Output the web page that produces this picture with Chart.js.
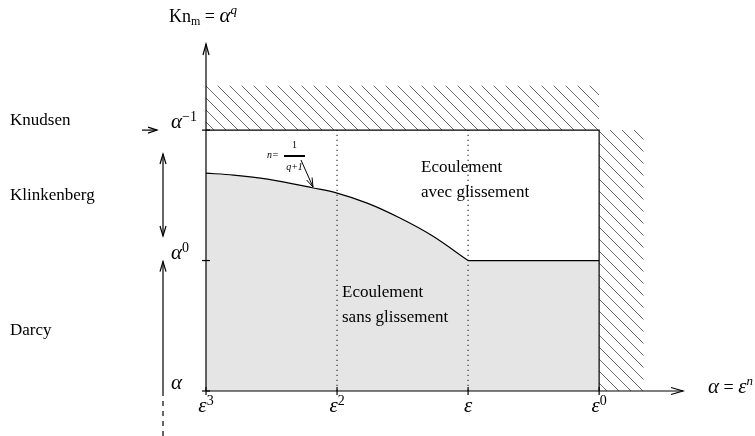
<!DOCTYPE html>
<html>
<head>
<meta charset="utf-8">
<script src="https://cdn.jsdelivr.net/npm/chart.js@4.4.0/dist/chart.umd.min.js"></script>
<style>
  html, body { margin: 0; padding: 0; background: #fff; }
  canvas { display: block; }
</style>
</head>
<body>
<canvas id="regimeChart" width="755" height="436"></canvas>
<script>
// axis ticks (x in powers of epsilon, y in powers of alpha)
const xTickPos = [0, 1, 2, 3];
const xTickBase = ['ε', 'ε', 'ε', 'ε'];
const xTickSup = ['3', '2', '', '0'];
const yTickPos = [0, 1, 2];
const yTickBase = ['α', 'α', 'α'];
const yTickSup = ['', '0', '−1'];

// frontier slip / no slip
const curveX = [0, 0.21, 0.47, 0.82, 1.0, 1.23, 1.48, 1.73, 2.0];
const curveY = [1.67, 1.655, 1.624, 1.556, 1.517, 1.44, 1.326, 1.188, 1.0];
const plateauX = [2, 3];
const plateauY = [1, 1];

// hatched (forbidden) zones
const hatchTopX = [0, 3];
const hatchTopY = [2.34, 2.34];
const hatchRightX = [3, 3.34];
const hatchRightY = [2, 2];

const regimeNames = ['Knudsen', 'Klinkenberg', 'Darcy'];

const serif = '"Liberation Serif", "Times New Roman", serif';
const toPoints = (xs, ys) => xs.map((x, i) => ({ x: x, y: ys[i] }));

function makeHatch() {
    const tile = document.createElement('canvas');
    tile.width = 12;
    tile.height = 12;
    const c = tile.getContext('2d');
    c.strokeStyle = '#6a6a6a';
    c.lineWidth = 1;
    c.beginPath();
    c.moveTo(-2, -2); c.lineTo(14, 14);
    c.moveTo(-2, 10); c.lineTo(2, 14);
    c.moveTo(10, -2); c.lineTo(14, 2);
    c.stroke();
    return c.createPattern(tile, 'repeat');
}

function segment(ctx, x1, y1, x2, y2) {
    ctx.beginPath();
    ctx.moveTo(x1, y1);
    ctx.lineTo(x2, y2);
    ctx.stroke();
}

function arrowHead(ctx, tx, ty, dx, dy, len = 11, half = 3.5) {
    const n = Math.hypot(dx, dy);
    dx /= n; dy /= n;
    const bx = tx - dx * len, by = ty - dy * len;
    ctx.beginPath();
    ctx.moveTo(bx - dy * half, by + dx * half);
    ctx.lineTo(tx, ty);
    ctx.lineTo(bx + dy * half, by - dx * half);
    ctx.stroke();
}

// draws a run of text pieces: [{t, font, dy}]
function rich(ctx, x, y, parts, align) {
    let w = 0;
    parts.forEach(p => { ctx.font = p.font; w += ctx.measureText(p.t).width; });
    let cx = align === 'center' ? x - w / 2 : x;
    ctx.textAlign = 'left';
    ctx.textBaseline = 'alphabetic';
    parts.forEach(p => {
        ctx.font = p.font;
        ctx.fillText(p.t, cx, y + (p.dy || 0));
        cx += ctx.measureText(p.t).width;
    });
}

const mathFont = `italic 21px ${serif}`;
const supFont = `14px ${serif}`;
const textFont = `17px ${serif}`;

const diagramPlugin = {
    id: 'diagram',
    afterDatasetsDraw(chart) {
        const ctx = chart.ctx;
        const xs = chart.scales.x, ys = chart.scales.y;
        const px = v => xs.getPixelForValue(v);
        const py = v => ys.getPixelForValue(v);
        const x0 = px(0), y0 = py(0);

        ctx.save();
        ctx.strokeStyle = '#000';
        ctx.fillStyle = '#000';
        ctx.lineWidth = 1.2;

        // axes with open arrows
        segment(ctx, x0, y0, px(xs.max), y0);
        arrowHead(ctx, px(xs.max), y0, 1, 0, 12, 3.5);
        segment(ctx, x0, y0, x0, py(ys.max));
        arrowHead(ctx, x0, py(ys.max), 0, -1, 11, 3);

        // ticks
        xTickPos.forEach(v => segment(ctx, px(v), y0 - 4, px(v), y0 + 4));
        yTickPos.forEach(v => segment(ctx, x0 - 4, py(v), x0 + 4, py(v)));

        // tick labels
        xTickPos.forEach((v, i) => {
            rich(ctx, px(v), y0 + 21, [
                { t: xTickBase[i], font: mathFont },
                { t: xTickSup[i], font: supFont, dy: -7 }
            ], 'center');
        });
        yTickPos.forEach((v, i) => {
            rich(ctx, x0 - 35, py(v) - 2, [
                { t: yTickBase[i], font: mathFont },
                { t: yTickSup[i], font: supFont, dy: -7 }
            ]);
        });

        // axis titles
        rich(ctx, 169, 22, [
            { t: 'Kn', font: `18px ${serif}` },
            { t: 'm', font: `12px ${serif}`, dy: 3 },
            { t: ' = ', font: `18px ${serif}` },
            { t: 'α', font: mathFont },
            { t: 'q', font: `italic 13px ${serif}`, dy: -8 }
        ]);
        rich(ctx, 708, y0 + 2, [
            { t: 'α', font: mathFont },
            { t: ' = ', font: `18px ${serif}` },
            { t: 'ε', font: mathFont },
            { t: 'n', font: `italic 13px ${serif}`, dy: -8 }
        ]);

        // regime names on the left
        ctx.font = textFont;
        ctx.fillText(regimeNames[0], 10, 125);
        ctx.fillText(regimeNames[1], 10, 200);
        ctx.fillText(regimeNames[2], 10, 335);

        // regime arrows
        const ax = 163;
        segment(ctx, 142, py(2), 157, py(2));
        arrowHead(ctx, 157, py(2), 1, 0, 9, 3);
        segment(ctx, ax, 154, ax, 236);
        arrowHead(ctx, ax, 154, 0, -1, 10, 3);
        arrowHead(ctx, ax, 236, 0, 1, 10, 3);
        segment(ctx, ax, y0, ax, py(1) + 1);
        arrowHead(ctx, ax, py(1) + 1, 0, -1, 10, 3);
        ctx.setLineDash([5, 5]);
        segment(ctx, ax, y0, ax, chart.height);
        ctx.setLineDash([]);

        // flow regime texts
        ctx.font = textFont;
        ctx.fillText('Ecoulement', 421, 172);
        ctx.fillText('avec glissement', 421, 197);
        ctx.fillText('Ecoulement', 342, 297);
        ctx.fillText('sans glissement', 342, 322);

        // n = 1/(q+1) annotation
        const small = `italic 10px ${serif}`;
        ctx.font = small;
        ctx.fillText('n=', 267, 158);
        ctx.font = `10px ${serif}`;
        ctx.textAlign = 'center';
        ctx.fillText('1', 294.5, 148);
        ctx.font = small;
        ctx.fillText('q+1', 294.5, 170);
        ctx.textAlign = 'left';
        ctx.lineWidth = 2;
        segment(ctx, 284, 156, 305, 156);
        ctx.lineWidth = 1;
        segment(ctx, 301, 160, 313, 187);
        arrowHead(ctx, 313, 187, 12, 27, 9, 3);

        ctx.restore();
    }
};

const hatch = makeHatch();

new Chart(document.getElementById('regimeChart'), {
    type: 'scatter',
    data: {
        datasets: [
            {
                data: toPoints(curveX, curveY),
                showLine: true,
                borderColor: '#000',
                borderWidth: 1.2,
                backgroundColor: '#e5e5e5',
                fill: 'origin',
                cubicInterpolationMode: 'monotone',
                pointRadius: 0
            },
            {
                data: toPoints(plateauX, plateauY),
                showLine: true,
                borderColor: '#000',
                borderWidth: 1.2,
                backgroundColor: '#e5e5e5',
                fill: 'origin',
                pointRadius: 0
            },
            {
                // outer frame of the admissible domain
                data: [{ x: 0, y: yTickPos[2] }, { x: xTickPos[3], y: yTickPos[2] }, { x: xTickPos[3], y: 0 }],
                showLine: true,
                borderColor: '#000',
                borderWidth: 1.2,
                fill: false,
                pointRadius: 0
            },
            {
                data: [{ x: xTickPos[1], y: 0 }, { x: xTickPos[1], y: yTickPos[2] }],
                showLine: true,
                borderColor: '#333',
                borderWidth: 1.2,
                borderDash: [1.2, 3.8],
                fill: false,
                pointRadius: 0
            },
            {
                data: [{ x: xTickPos[2], y: 0 }, { x: xTickPos[2], y: yTickPos[2] }],
                showLine: true,
                borderColor: '#333',
                borderWidth: 1.2,
                borderDash: [1.2, 3.8],
                fill: false,
                pointRadius: 0
            },
            {
                data: toPoints(hatchTopX, hatchTopY),
                showLine: true,
                borderWidth: 0,
                borderColor: 'rgba(0,0,0,0)',
                backgroundColor: hatch,
                fill: { value: yTickPos[2] },
                pointRadius: 0
            },
            {
                data: toPoints(hatchRightX, hatchRightY),
                showLine: true,
                borderWidth: 0,
                borderColor: 'rgba(0,0,0,0)',
                backgroundColor: hatch,
                fill: { value: 0 },
                pointRadius: 0
            }
        ]
    },
    options: {
        responsive: false,
        animation: false,
        layout: { padding: { left: 206, right: 72, top: 44, bottom: 45 } },
        scales: {
            x: { type: 'linear', min: 0, max: 3.64, display: false },
            y: { type: 'linear', min: 0, max: 2.66, display: false }
        },
        plugins: {
            legend: { display: false },
            tooltip: { enabled: false },
            filler: { drawTime: 'beforeDatasetsDraw' }
        }
    },
    plugins: [diagramPlugin]
});
</script>
</body>
</html>
